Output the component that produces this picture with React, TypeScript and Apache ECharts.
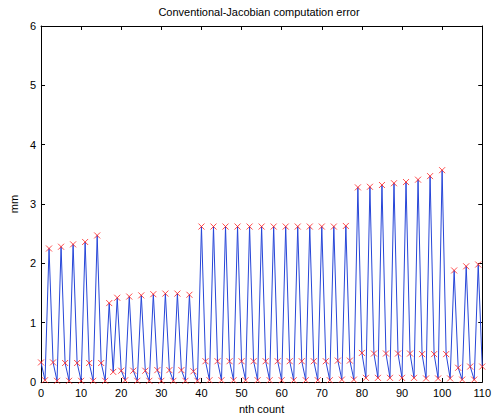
import React, { useEffect, useRef } from "react";
import * as echarts from "echarts";

// Error value (mm) for each count n = 0 … 110
const errorMm: number[] = [
  0.33, 0.03, 2.25, 0.33, 0.02, 2.28, 0.32, 0.02, 2.32, 0.32,
  0.02, 2.36, 0.32, 0.02, 2.47, 0.32, 0.02, 1.33, 0.17, 1.42,
  0.19, 0.03, 1.44, 0.19, 0.02, 1.46, 0.19, 0.02, 1.48, 0.2,
  0.02, 1.49, 0.2, 0.02, 1.49, 0.2, 0.02, 1.47, 0.18, 0.02,
  2.62, 0.35, 0.03, 2.62, 0.35, 0.03, 2.62, 0.35, 0.03, 2.62,
  0.35, 0.03, 2.62, 0.35, 0.03, 2.62, 0.35, 0.03, 2.62, 0.35,
  0.03, 2.62, 0.35, 0.03, 2.62, 0.35, 0.03, 2.62, 0.35, 0.03,
  2.62, 0.35, 0.03, 2.62, 0.36, 0.04, 2.63, 0.36, 0.04, 3.28,
  0.49, 0.07, 3.29, 0.48, 0.07, 3.32, 0.48, 0.07, 3.35, 0.48,
  0.07, 3.37, 0.48, 0.07, 3.41, 0.47, 0.06, 3.47, 0.47, 0.06,
  3.57, 0.47, 0.06, 1.88, 0.24, 0.04, 1.95, 0.26, 0.04, 1.98,
  0.26,
];

const xTicks = { min: 0, max: 110, interval: 10 };
const yTicks = { min: 0, max: 6, interval: 1 };

const titleText = "Conventional-Jacobian computation error";
const xName = "nth count";
const yName = "mm";

const FONT = "Liberation Sans, Arial, sans-serif";

export default function App() {
  const ref = useRef<HTMLDivElement>(null);

  useEffect(() => {
    if (!ref.current) return;
    const chart = echarts.init(ref.current, null, { renderer: "svg" });
    const points = errorMm.map((v, i) => [i, v]);

    const axisCommon = {
      type: "value" as const,
      axisLine: { show: true, onZero: false, lineStyle: { color: "#000", width: 1 } },
      axisTick: { show: true, inside: true, length: 4, lineStyle: { color: "#000", width: 1 } },
      splitLine: { show: false },
    };

    chart.setOption({
      animation: false,
      backgroundColor: "#fff",
      grid: { left: 35, right: 11, top: 26, bottom: 34, containLabel: false },
      graphic: [
        {
          type: "text",
          x: 259,
          y: 12,
          style: {
            text: titleText,
            fill: "#000",
            font: `11px ${FONT}`,
            textAlign: "center",
            textVerticalAlign: "middle",
          },
        },
      ],
      xAxis: [
        {
          ...axisCommon,
          ...xTicks,
          position: "bottom",
          axisLabel: { color: "#000", fontSize: 11, fontFamily: FONT, margin: 5 },
          name: xName,
          nameLocation: "middle",
          nameGap: 21,
          nameTextStyle: { color: "#000", fontSize: 11, fontFamily: FONT },
        },
        {
          ...axisCommon,
          ...xTicks,
          position: "top",
          axisLabel: { show: false },
        },
      ],
      yAxis: [
        {
          ...axisCommon,
          ...yTicks,
          position: "left",
          axisLabel: { color: "#000", fontSize: 11, fontFamily: FONT, margin: 5 },
          name: yName,
          nameLocation: "middle",
          nameGap: 19,
          nameTextStyle: { color: "#000", fontSize: 11, fontFamily: FONT },
        },
        {
          ...axisCommon,
          ...yTicks,
          position: "right",
          axisLabel: { show: false },
        },
      ],
      series: [
        {
          type: "line",
          data: points,
          showSymbol: false,
          symbol: "none",
          lineStyle: { color: "#2746d8", width: 1 },
          z: 2,
        },
        {
          type: "scatter",
          data: points,
          symbol: "path://M0,0L10,10M10,0L0,10",
          symbolSize: 6,
          itemStyle: { color: "none", borderColor: "#ff2020", borderWidth: 1 },
          z: 3,
        },
      ],
    });
    return () => chart.dispose();
  }, []);

  return (
    <div
      ref={ref}
      style={{ position: "fixed", left: 0, top: 0, width: 494, height: 419 }}
    />
  );
}
